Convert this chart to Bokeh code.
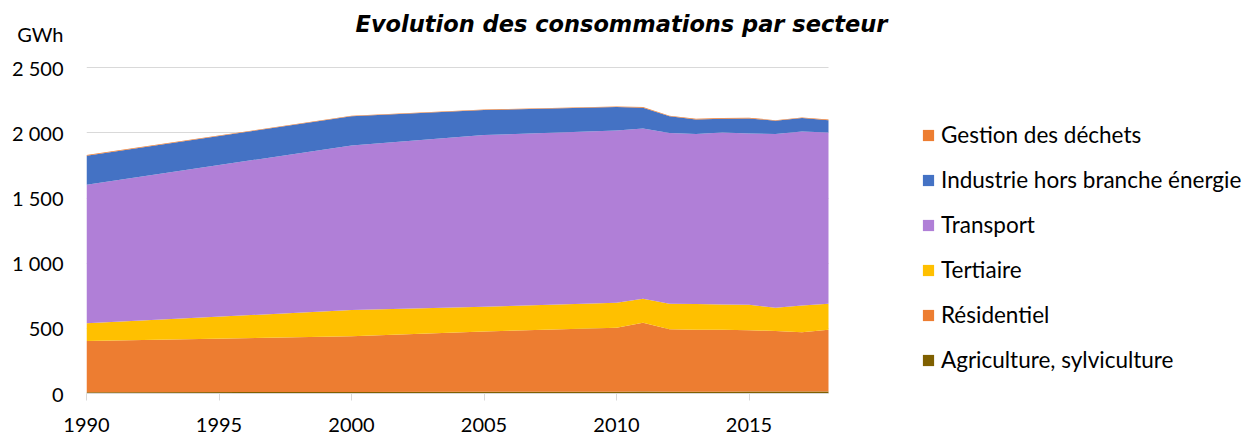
from bokeh.plotting import figure
from bokeh.models import (ColumnDataSource, Range1d, FixedTicker, Legend, LegendItem, Label)
from bokeh.embed import file_html
from bokeh.resources import INLINE

years = [1990, 2000, 2005, 2010, 2011, 2012, 2013, 2014, 2015, 2016, 2017, 2018]
agriculture = [10, 12, 13, 14, 15, 14, 14, 13, 15, 15, 15, 15]
residentiel = [392, 428, 463, 490, 528, 480, 475, 476, 471, 464, 456, 474]
tertiaire = [138, 200, 189, 192, 184, 194, 197, 194, 195, 179, 205, 199]
transport = [1062, 1264, 1318, 1323, 1307, 1311, 1305, 1321, 1315, 1333, 1335, 1316]
industrie = [223, 223, 192, 179, 159, 128, 112, 105, 115, 102, 103, 94]
dechets = [5, 5, 5, 5, 5, 5, 5, 5, 5, 5, 5, 5]

series_keys = ["agri", "res", "tert", "trans", "ind", "dech"]
series_labels = ["Agriculture, sylviculture", "Résidentiel", "Tertiaire", "Transport",
                 "Industrie hors branche énergie", "Gestion des déchets"]
colors = ["#7F6000", "#ED7D31", "#FFC000", "#B07FD7", "#4472C4", "#ED7D31"]
y_ticks = [0, 500, 1000, 1500, 2000, 2500]
y_tick_labels = ["0", "500", "1 000", "1 500", "2 000", "2 500"]
x_ticks = [1990, 1995, 2000, 2005, 2010, 2015]
unit_label = "GWh"
title_text = "Evolution des consommations par secteur"

source = ColumnDataSource(dict(year=years, agri=agriculture, res=residentiel, tert=tertiaire,
                               trans=transport, ind=industrie, dech=dechets))

FONT = "Lato"
W, H = 1250, 440
# layout geometry (pixels)
PX_X0, PX_X1 = 86, 828          # x of first / last year
PX_Y0, PX_YTOP = 393.3, 67.3    # y of 0 and of top tick
px_per_year = (PX_X1 - PX_X0) / (years[-1] - years[0])
px_per_unit = (PX_Y0 - PX_YTOP) / y_ticks[-1]
x_end = years[-1] + (W - PX_X1) / px_per_year
y_end = y_ticks[-1] + PX_YTOP / px_per_unit

p = figure(width=W, height=H, output_backend="svg", toolbar_location=None,
           x_range=Range1d(years[0], x_end), y_range=Range1d(0, y_end),
           min_border_left=PX_X0, min_border_right=0, min_border_top=0,
           min_border_bottom=H - round(PX_Y0))
p.outline_line_color = None
p.background_fill_color = "white"
p.border_fill_color = "white"

renderers = p.varea_stack(stackers=series_keys, x="year", color=colors, source=source)

# x axis
p.xaxis.ticker = FixedTicker(ticks=x_ticks)
p.xaxis.bounds = (years[0], years[-1])
p.xaxis.axis_line_color = "#D9D9D9"
p.xaxis.major_tick_line_color = "#D9D9D9"
p.xaxis.major_tick_in = 0
p.xaxis.major_tick_out = 7
p.xaxis.minor_tick_line_color = None
p.xaxis.major_label_standoff = 17
p.xaxis.major_label_text_font = FONT
p.xaxis.major_label_text_font_size = "20px"
p.xaxis.major_label_text_color = "#000000"

# y axis (unit label shown above the top tick)
gwh_pos = y_ticks[-1] + 34 / px_per_unit
p.yaxis.ticker = FixedTicker(ticks=y_ticks + [gwh_pos])
overrides = {t: l for t, l in zip(y_ticks, y_tick_labels)}
overrides[gwh_pos] = unit_label
p.yaxis.major_label_overrides = overrides
p.yaxis.axis_line_color = None
p.yaxis.major_tick_line_color = None
p.yaxis.minor_tick_line_color = None
p.yaxis.major_tick_in = 0
p.yaxis.major_tick_out = 0
p.yaxis.major_label_standoff = 23
p.yaxis.major_label_text_font = FONT
p.yaxis.major_label_text_font_size = "20px"
p.yaxis.major_label_text_color = "#000000"

p.xgrid.grid_line_color = None
p.ygrid.ticker = FixedTicker(ticks=y_ticks[1:])
p.ygrid.grid_line_color = "#D9D9D9"
p.ygrid.grid_line_width = 1
p.ygrid.cross_bounds = (years[0], years[-1])

# legend (reverse order)
items = [LegendItem(label=series_labels[i], renderers=[renderers[i]]) for i in reversed(range(len(series_keys)))]
legend = Legend(items=items, location=(835, 20), orientation="vertical",
                glyph_width=14, glyph_height=14, label_standoff=6,
                label_height=24, spacing=18, padding=0, margin=0,
                border_line_alpha=0, background_fill_alpha=0,
                label_text_font=FONT, label_text_font_size="22.5px", label_text_color="#000000")
p.add_layout(legend)

p.add_layout(Label(x=years[0], y=y_ticks[-1], x_offset=535, y_offset=44,
                   text=title_text,
                   text_align="center", text_baseline="middle",
                   text_font="DejaVu Sans", text_font_size="22.5px", text_font_style="bold italic",
                   text_color="#000000"))

open("out.html", "w").write(file_html(p, INLINE))
